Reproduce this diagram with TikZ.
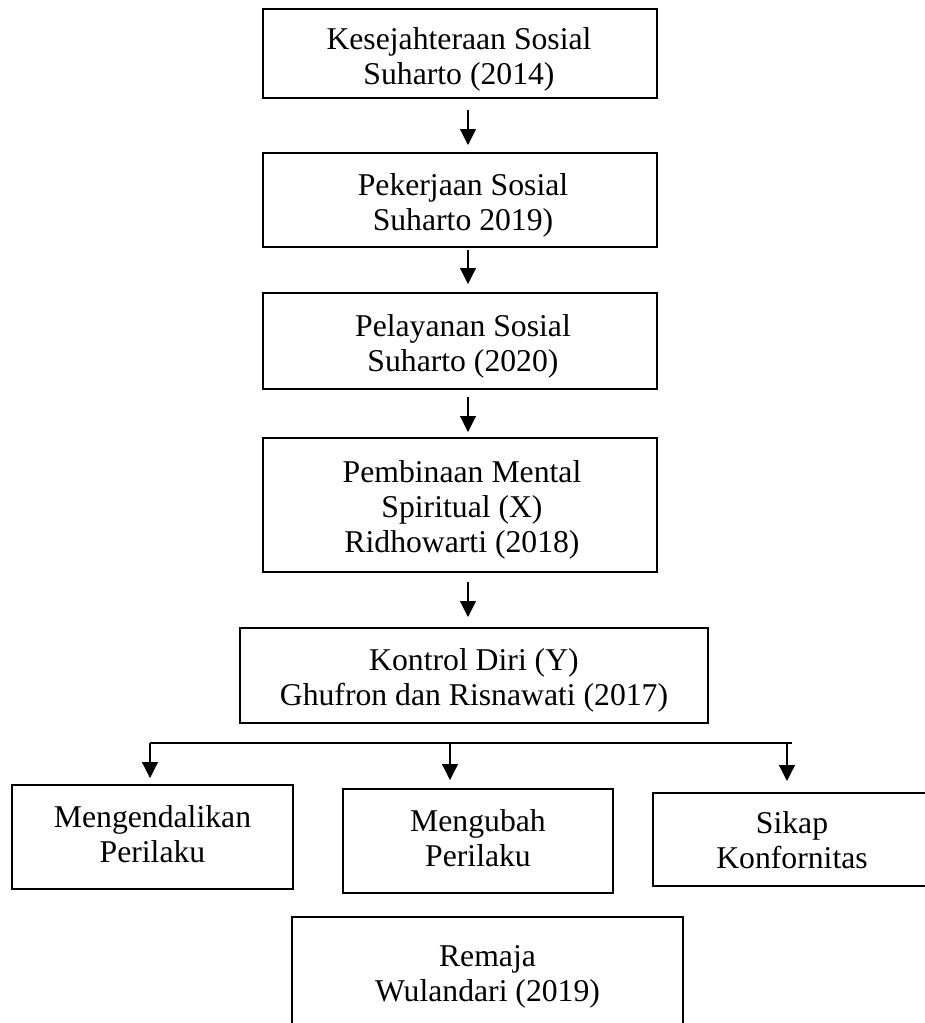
\documentclass[tikz,border=0pt]{standalone}
\usepackage{fontspec}
\setmainfont{Liberation Serif}
\usetikzlibrary{arrows.meta,calc}
\begin{document}
\begin{tikzpicture}[x=1pt,y=-1pt,
  box/.style={draw, line width=2.5pt, inner sep=0pt, outer sep=0pt},
  txt/.style={align=center, font=\fontsize{31.7}{35}\selectfont, inner sep=0pt},
  arr/.style={line width=1.2pt, -{Triangle[width=16pt,length=16pt]}},
  fan/.style={line width=1.2pt}]
\fill[white] (0,0) rectangle (925,1023);
\useasboundingbox (0,0) rectangle (925,1023);

% boxes
\node[box, minimum width=394pt, minimum height=89pt]  (b1) at (460,53.5) {};
\node[box, minimum width=394pt, minimum height=94pt]  (b2) at (460,200) {};
\node[box, minimum width=394pt, minimum height=96pt]  (b3) at (460,341) {};
\node[box, minimum width=394pt, minimum height=134pt] (b4) at (460,505) {};
\node[box, minimum width=468pt, minimum height=95pt]  (b5) at (474,675.5) {};
\node[box, minimum width=281pt, minimum height=104pt] (b6) at (152.5,837) {};
\node[box, minimum width=270pt, minimum height=104pt] (b7) at (478,841) {};
\node[box, minimum width=278pt, minimum height=93pt]  (b8) at (792,839.5) {};
\node[box, minimum width=391pt, minimum height=128pt] (b9) at (487.5,981) {};

% texts
\node[txt] (t1) at (459,59.5) {Kesejahteraan Sosial\\Suharto (2014)};
\node[txt] (t2) at (463,205) {Pekerjaan Sosial\\Suharto 2019)};
\node[txt] (t3) at (463,346) {Pelayanan Sosial\\Suharto (2020)};
\node[txt] (t4) at (462,510) {Pembinaan Mental\\Spiritual (X)\\Ridhowarti (2018)};
\node[txt] (t5) at (474,680.5) {Kontrol Diri (Y)\\Ghufron dan Risnawati (2017)};
\node[txt] (t6) at (152.5,834) {Mengendalikan\\Perilaku};
\node[txt] (t7) at (478,838) {Mengubah\\Perilaku};
\node[txt] (t8) at (792,840) {Sikap\\Konfornitas};
\node[txt] (t9) at (487.5,977) {Remaja\\Wulandari (2019)};

% vertical chain
\draw[arr, shorten <=12pt, shorten >=8pt]  ([xshift=8pt]b1.south) -- ([xshift=8pt]b1.south |- b2.north);
\draw[arr, shorten <=3pt,  shorten >=9pt]  ([xshift=8pt]b2.south) -- ([xshift=8pt]b2.south |- b3.north);
\draw[arr, shorten <=8pt,  shorten >=6pt]  ([xshift=8pt]b3.south) -- ([xshift=8pt]b3.south |- b4.north);
\draw[arr, shorten <=10pt, shorten >=11pt] ([xshift=8pt]b4.south) -- ([xshift=8pt]b4.south |- b5.north);

% fan out
\coordinate (hl) at (150,743);
\coordinate (hm) at (450,743);
\coordinate (hr) at (787,743);
\coordinate (he) at (792,743);
\draw[fan] (hl) -- (he);
\draw[arr, shorten >=7pt]  (hl) -- (hl |- b6.north);
\draw[arr, shorten >=9pt]  (hm) -- (hm |- b7.north);
\draw[arr, shorten >=12pt] (hr) -- (hr |- b8.north);
\end{tikzpicture}
\end{document}
